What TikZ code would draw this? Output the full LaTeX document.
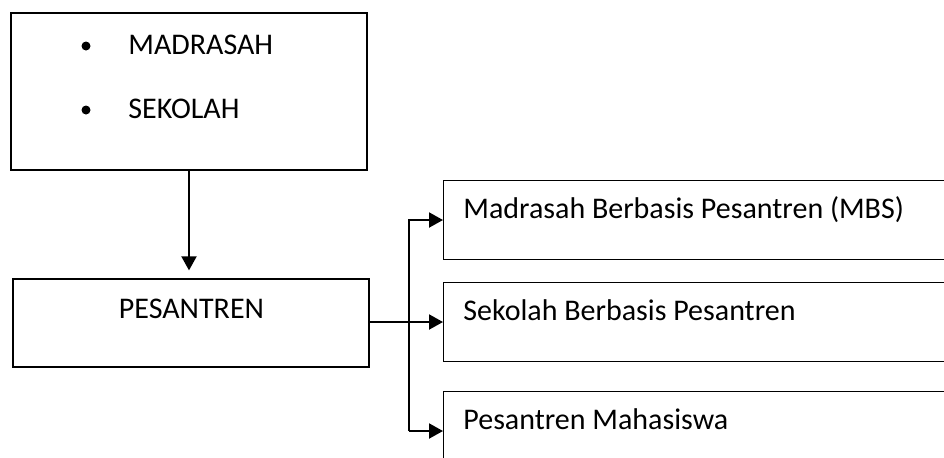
\documentclass[tikz,border=0pt]{standalone}
\usepackage{fontspec}
\setmainfont{Carlito}
\usetikzlibrary{arrows.meta}
\begin{document}
\begin{tikzpicture}[x=0.5pt, y=-0.5pt,
    kotak/.style={draw=black, line width=0.65pt, inner sep=0pt},
    teks/.style={inner sep=0pt, font=\fontsize{15}{18}\selectfont},
    titik/.style={circle, fill=black, inner sep=0pt, minimum size=4.5pt},
    panah/.style={line width=1pt, -{Triangle[width=7.5pt, length=7pt]}}]
    \clip (0,0) rectangle (944,457);

    \node[kotak, minimum width=178pt, minimum height=78.5pt] (asal) at (189,91.5) {};
    \node[titik] (titik1) at (86,46) {};
    \node[titik] (titik2) at (86,110) {};
    \node[teks, anchor=base west] (madrasah) at (128,54) {MADRASAH};
    \node[teks, anchor=base west] (sekolah) at (128,118) {SEKOLAH};

    \node[kotak, minimum width=178pt, minimum height=44pt] (pesantren) at (191,323) {};
    \node[teks, anchor=base] (judul) at (191.5,318) {PESANTREN};

    \draw[panah, shorten >=4pt] (asal.south) -- (asal.south |- pesantren.north);

    \foreach \nama/\yc/\isi in {1/220/{Madrasah Berbasis Pesantren (MBS)},
                                2/322/{Sekolah Berbasis Pesantren},
                                3/431/{Pesantren Mahasiswa}} {
      \node[kotak, anchor=west, minimum width=260pt, minimum height=39.5pt] (tujuan\nama) at (443,\yc) {};
      \node[teks, anchor=base west] (teks\nama) at (463,\yc-2) {\isi};
    }

    \coordinate (cabang) at (409,322);
    \draw[panah] (tujuan3.west -| cabang) -- (tujuan1.west -| cabang) -- (tujuan1.west);
    \draw[panah] (tujuan3.west -| cabang) -- (tujuan3.west);
    \draw[panah] (pesantren.east |- tujuan2.west) -- (tujuan2.west);
\end{tikzpicture}
\end{document}
